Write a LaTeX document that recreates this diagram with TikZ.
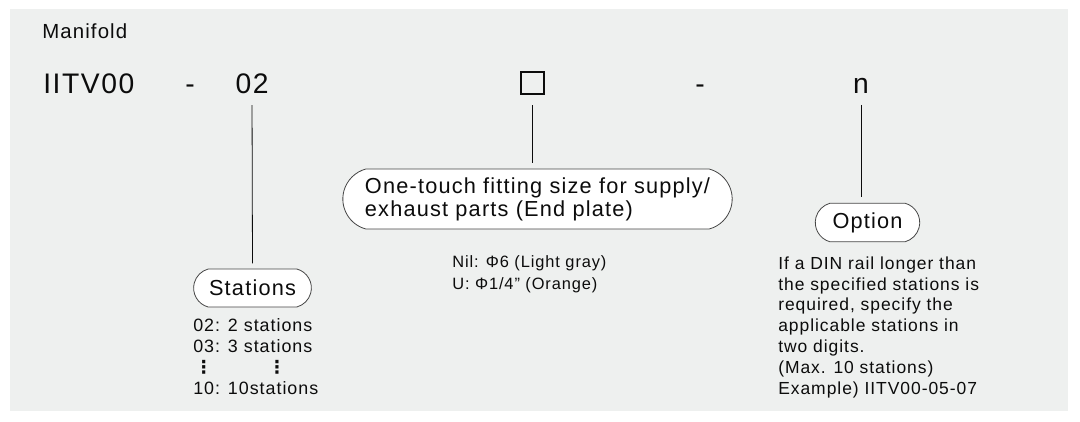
\documentclass[tikz,border=0pt]{standalone}
\usepackage{fontspec}
\usepackage{calc}
\setmainfont{Liberation Sans}[LetterSpace=5.5]
\newfontfamily\dotsfont{DejaVu Sans}
\usetikzlibrary{shapes.misc}
\definecolor{panel}{RGB}{238,240,239}
\definecolor{ink}{RGB}{12,12,12}
\definecolor{rim}{RGB}{70,70,70}
\newcommand\stackdots{{\dotsfont\bfseries ⋮}}

\begin{document}
\begin{tikzpicture}[x=0.75pt,y=0.75pt,yscale=-1,xscale=1,
  code/.style={anchor=base,inner sep=0.75pt,text=ink,font=\fontsize{21.2}{25}\selectfont},
  pill/.style={rounded rectangle,rounded rectangle arc length=150,draw=rim,line width=0.6pt,fill=white,text=ink,align=left,font=\fontsize{16.3}{17.3}\selectfont},
  note/.style={anchor=north west,inner sep=0pt,text=ink,align=left},
  lead/.style={draw=ink,line width=0.6pt,shorten <=8pt,shorten >=4pt}]
\useasboundingbox (0,0) rectangle (1080,421);
%Shape: background panel
\fill [panel] (10,9) rectangle (1068,411);

% Text Node
\node [anchor=base west,inner sep=0pt,text=ink,font=\fontsize{15.3}{18}\selectfont] (title) at (42,38) {Manifold};

%Code row
\node [code,anchor=base west] (model) at (42,93) {IITV00};
\node [code] (sepA) at (190,93) {-};
\node [code] (stations) at (252,93) {02};
\node [draw=ink,line width=1.6pt,minimum size=17pt,inner sep=0pt] (fitting) at (532.5,83) {};
\node [code] (sepB) at (700,93) {-};
\node [code] (option) at (861,93) {n};

%Rounded boxes
\node [pill,minimum width=95pt,minimum height=28.5pt] (stationsbox) at (252.5,288) {Stations};
\node [pill,minimum width=292pt,minimum height=45pt,inner xsep=0pt] (fittingbox) at (537.5,199) {One-touch fitting size for supply/\\exhaust parts (End plate)};
\node [pill,minimum width=85pt,minimum height=29pt] (optionbox) at (867.5,222.5) {Option};

%Straight Lines
\draw [lead] (stations.south) -- (stationsbox.north);
\draw [lead,shorten <=7.5pt] (fitting.south) -- (fitting.south |- fittingbox.north);
\draw [lead] (option.south) -- (option.south |- optionbox.north);

% Text Node
\node [note,font=\fontsize{13.4}{15.75}\selectfont] (stationslist) at (193,318) {02: 2 stations\\03: 3 stations\\\makebox[\widthof{03}]{\stackdots}\makebox[\widthof{: 3 }]{}\makebox[\widthof{stations}]{\stackdots}\\10: 10stations};
% Text Node
\node [note,font=\fontsize{12.3}{16.5}\selectfont] (fittinglist) at (452,255) {Nil: Φ6 (Light gray)\\U: Φ1/4" (Orange)};
% Text Node
\node [note,font=\fontsize{13.1}{15.6}\selectfont] (optionnote) at (778,256.3) {If a DIN rail longer than\\the specified stations is\\required, specify the\\applicable stations in\\two digits.\\(Max. 10 stations)\\Example) IITV00-05-07};

\end{tikzpicture}
\end{document}
